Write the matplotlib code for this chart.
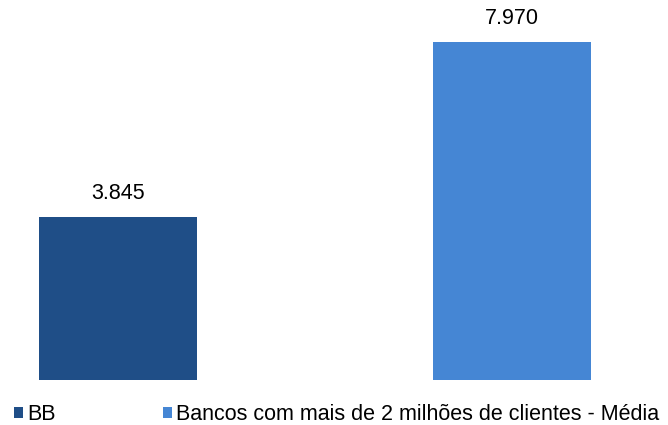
import matplotlib.pyplot as plt
from matplotlib.patches import Patch

plt.rcParams['font.family'] = ['Liberation Sans', 'DejaVu Sans']

categories = ["BB", "Bancos com mais de 2 milhões de clientes - Média"]
values = [3845, 7970]
labels = ["3.845", "7.970"]
colors = ["#1F4E87", "#4586D4"]

fig = plt.figure(figsize=(6.68, 4.25), dpi=100)
ax = fig.add_axes([0, 45 / 425, 1, 370 / 425])

x = [0, 1]
ax.bar(x, values, width=0.4, color=colors)
ax.set_xlim(-118 / 394, 550 / 394)
ax.set_ylim(0, 7970 * 370 / 338)
for xi, v, lab in zip(x, values, labels):
    ax.text(xi, v + 300, lab, ha='center', va='bottom', fontsize=15.5)
ax.axis('off')

handles = [Patch(facecolor=c) for c in colors]
fig.legend(handles, categories, loc='lower left', bbox_to_anchor=(0.002, -0.03),
           ncol=2, frameon=False, fontsize=15.5, handlelength=0.4, handleheight=0.4,
           handletextpad=0.2, columnspacing=5.0, borderaxespad=0.2)

fig.savefig("out.png", dpi=100)
